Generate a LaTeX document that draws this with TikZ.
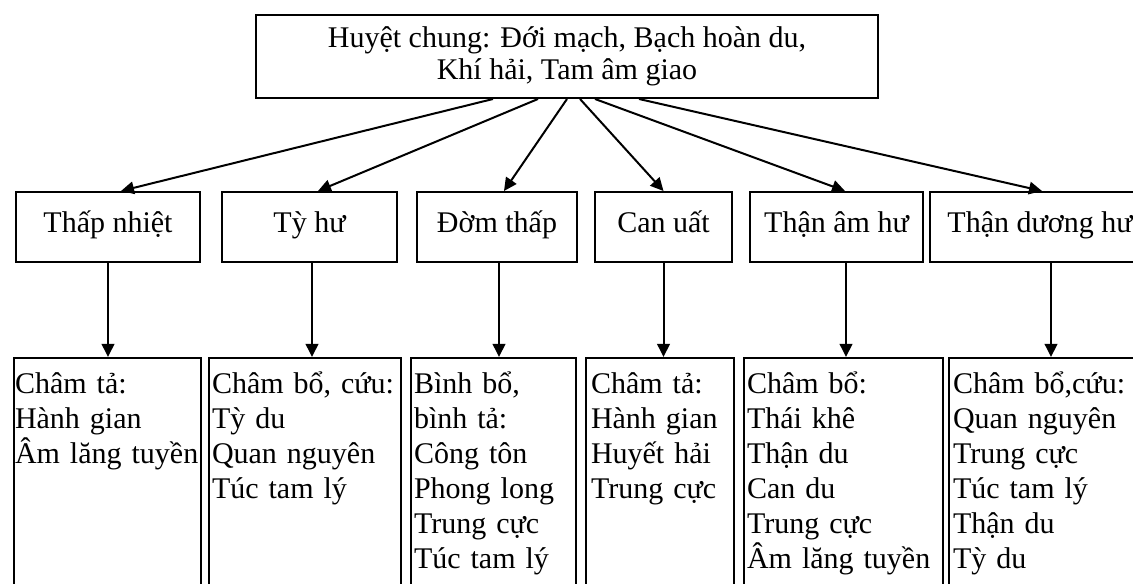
\documentclass[tikz,border=0pt]{standalone}
\usepackage{fontspec}
\setmainfont{Liberation Serif}
\usetikzlibrary{arrows.meta,calc}

\tikzset{
  syn/.style={draw,line width=0.8pt,minimum height=28pt,inner sep=0pt,
    text height=8pt,text depth=3.5pt},
  pts/.style={draw,line width=0.8pt,anchor=north west,align=left,
    inner ysep=0pt,text height=14.4pt,text depth=90pt}
}

\begin{document}
\begin{tikzpicture}[x=0.4pt,y=-0.4pt,>={Triangle[length=5.2pt,width=5pt]},
    font=\fontsize{12}{14}\selectfont]
  \useasboundingbox (0,0) rectangle (1133,584);
  \clip (0,0) rectangle (1133,584);
  \node[draw,line width=0.8pt,minimum width=248.8pt,minimum height=33.2pt,
    align=center,font=\fontsize{12}{12.8}\selectfont] (top) at (567,56.5)
    {Huyệt chung: Đới mạch, Bạch hoàn du,\\Khí hải, Tam âm giao};
  % hội chứng
  \foreach \x/\w/\t [count=\i] in {108/73.6/Thấp nhiệt, 309.5/70/Tỳ hư,
      497/64/Đờm thấp, 663.5/54.8/Can uất, 836.5/69.2/Thận âm hư,
      1040/88/Thận dương hư}
    \node[syn,minimum width=\w pt] (s\i) at (\x,227) {\t};
  % huyệt điều trị
  \foreach \x/\w/\s/\t [count=\i] in {
      13/74/0.4/{Châm tả:\\Hành gian\\Âm lăng tuyền},
      208/74.4/1.2/{Châm bổ, cứu:\\Tỳ du\\Quan nguyên\\Túc tam lý},
      410/63.6/1.2/{Bình bổ,\\bình tả:\\Công tôn\\Phong long\\Trung cực\\Túc tam lý},
      585/55.2/2/{Châm tả:\\Hành gian\\Huyết hải\\Trung cực},
      743/77.2/1.2/{Châm bổ:\\Thái khê\\Thận du\\Can du\\Trung cực\\Âm lăng tuyền},
      948/84.8/1.6/{Châm bổ,cứu:\\Quan nguyên\\Trung cực\\Túc tam lý\\Thận du\\Tỳ du}}
    \node[pts,inner xsep=\s pt,text width=\w pt] (p\i) at (\x,357) {\t};
  \foreach \i/\a/\b in {1/-29.6/5.2, 2/-11.6/3.4, 3/0/2.8, 4/5.2/0,
      5/11.2/3.4, 6/28.8/0.8}
    \draw[->,line width=0.8pt] ([xshift=\a pt]top.south) -- ([xshift=\b pt]s\i.north);
  \foreach \i/\a in {1/0, 2/1, 3/0.8, 4/0, 5/3.8, 6/4.4}
    \draw[->,line width=0.8pt] ([xshift=\a pt]s\i.south)
      -- ($(s\i.south |- p\i.north)+(\a pt,0)$);
\end{tikzpicture}
\end{document}
